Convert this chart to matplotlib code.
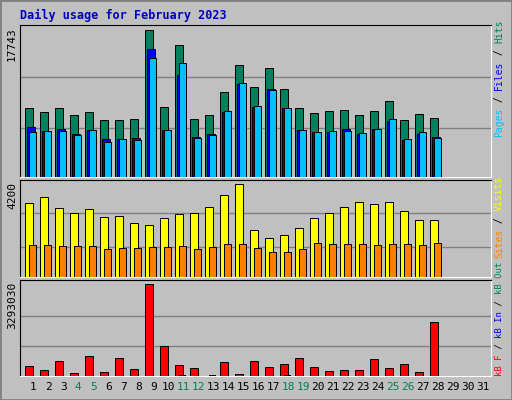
import numpy as np
import matplotlib.pyplot as plt
from matplotlib.patches import Rectangle

days = np.arange(1, 29)
hits = [8350, 7868, 8350, 7507, 7868, 6904, 6904, 7025, 17743, 8470, 15936, 7025,
        7507, 10276, 13527, 10878, 13166, 10637, 8350, 7747, 7988, 8108, 7507, 7988,
        9192, 6904, 7627, 7145]
files = [6061, 5580, 5820, 5218, 5700, 4616, 4616, 4737, 15454, 5700, 12323, 4857,
         5218, 7868, 11239, 8470, 10637, 8349, 5700, 5459, 5459, 5820, 5218, 5820,
         6784, 4496, 5218, 4857]
pages = [5459, 5580, 5580, 5098, 5700, 4255, 4616, 4496, 14370, 5700, 13768, 4737,
         5098, 7988, 11360, 8590, 10517, 8350, 5700, 5459, 5580, 5580, 5339, 5820,
         7025, 4616, 5459, 4737]
visits = [3335, 3608, 3108, 2880, 3062, 2698, 2744, 2426, 2335, 2653, 2835, 2880,
          3153, 3699, 4200, 2153, 1789, 1925, 2199, 2653, 2880, 3153, 3381, 3290,
          3381, 2971, 2562, 2562]
sites = [1471, 1471, 1425, 1425, 1425, 1289, 1334, 1334, 1380, 1380, 1425, 1289,
         1380, 1516, 1516, 1334, 1152, 1152, 1289, 1562, 1516, 1516, 1516, 1471,
         1516, 1516, 1471, 1562]
kbf = [372600, 228400, 553000, 120200, 697300, 156200, 625200, 264400, 3293030, 1057400,
       408600, 300500, 0, 516900, 84100, 553000, 336500, 444700, 625200, 336500,
       192300, 228400, 228400, 589100, 300500, 444700, 156200, 1923000]
kbin = [0, 0, 0, 0, 0, 0, 0, 0, 0, 0, 40000, 0, 40000, 0, 0, 0, 0, 40000, 0, 0,
        0, 0, 0, 0, 0, 0, 0, 0]
weekend = [4, 5, 11, 12, 18, 19, 25, 26]

c_hits, c_files, c_pages = '#00805c', '#0000ff', '#00c0ff'
c_visits, c_sites, c_kbf = '#ffff00', '#ff8000', '#ff0000'
grey = '#c0c0c0'

W, H = 512, 400
fig = plt.figure(figsize=(5.12, 4.0), dpi=100, facecolor=grey)
fig.patches.append(Rectangle((0, 0), 1, 1, transform=fig.transFigure, fill=False,
                             edgecolor='#808080', lw=2))

def mk(top, bot):
    ax = fig.add_axes([20 / W, 1 - bot / H, 471 / W, (bot - top) / H])
    ax.set_facecolor(grey)
    ax.set_xlim(1 - 13.3 / 15, 1 + (491 - 33.3) / 15)
    ax.set_xticks([])
    ax.set_yticks([])
    for s in ['left', 'top']:
        ax.spines[s].set_color('black')
    for s in ['right', 'bottom']:
        ax.spines[s].set_color('white')
    return ax

bw = 0.49
kw = dict(align='edge', edgecolor='black', linewidth=0.7, zorder=3)

ax1 = mk(25, 177)
ax1.set_ylim(0, 17743 * 152 / 147.4)
for g in [5935, 12075]:
    ax1.axhline(g, color='#808080', lw=1, zorder=1)
ax1.bar(days - 0.53, hits, bw, color=c_hits, **kw)
ax1.bar(days - 0.40, files, bw, color=c_files, **kw)
ax1.bar(days - 0.29, pages, bw, color=c_pages, **kw)

ax2 = mk(180, 277)
ax2.set_ylim(0, 4200 * 290 / 277)
for g in [1380, 2880]:
    ax2.axhline(g, color='#808080', lw=1, zorder=1)
ax2.bar(days - 0.53, visits, bw, color=c_visits, **kw)
ax2.bar(days - 0.29, sites, bw, color=c_sites, **kw)

ax3 = mk(280, 376)
ax3.set_ylim(0, 3293030 * 285 / 274)
for g in [1077000, 2150000]:
    ax3.axhline(g, color='#808080', lw=1, zorder=1)
ax3.bar(days - 0.53, kbf, bw, color=c_kbf, **kw)
ax3.bar(days - 0.29, kbin, bw, color='black', align='edge', zorder=3)

for d in range(1, 32):
    fig.text((33.3 + 15 * (d - 1)) / W, 1 - 387 / H, str(d), ha='center', va='center',
             fontsize=8, color=c_hits if d in weekend else 'black', family='DejaVu Sans Mono')

mono = dict(family='DejaVu Sans Mono', fontsize=8, rotation=90)
fig.text(12 / W, 1 - 27 / H, '17743', ha='center', va='top', **mono)
fig.text(12 / W, 1 - 182 / H, '4200', ha='center', va='top', **mono)
fig.text(12 / W, 1 - 282 / H, '3293030', ha='center', va='top', **mono)

fig.text(20 / W, 1 - 15 / H, 'Daily usage for February 2023', ha='left', va='center',
         fontsize=8.5, fontweight='bold', color='#0000c0', family='DejaVu Sans Mono')

def side(parts, y0, fs):
    # parts drawn bottom-to-top
    cw = fs * 0.602 * 100 / 72
    y = y0
    for txt, col in parts:
        fig.text(499 / W, 1 - y / H, txt, ha='center', va='bottom', color=col,
                 family='DejaVu Sans Mono', fontsize=fs, rotation=90)
        y -= cw * len(txt)

side([('Pages', c_pages), (' / ', 'black'), ('Files', c_files), (' / ', 'black'), ('Hits', c_hits)], 137, 7)
side([('Sites', c_sites), (' / ', 'black'), ('Visits', c_visits)], 258, 7)
side([('kB F', c_kbf), (' / ', 'black'), ('kB In', c_files), (' / ', 'black'), ('kB Out', c_hits)], 376, 6.5)

fig.savefig('out.png', dpi=100, facecolor=grey)
